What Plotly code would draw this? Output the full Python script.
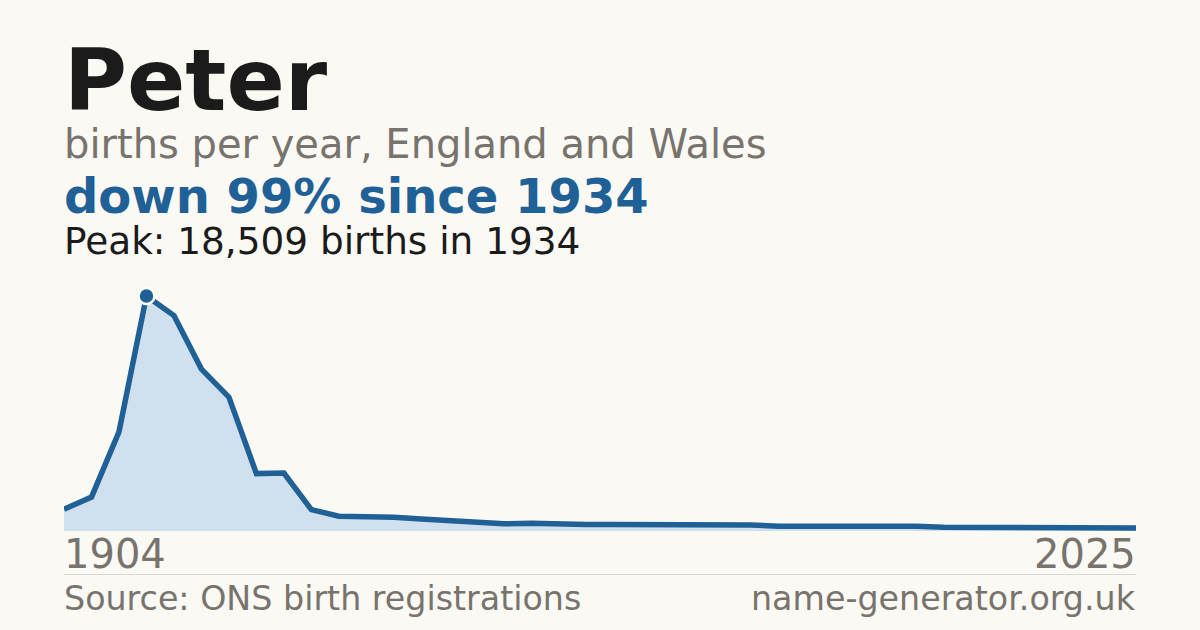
import plotly.graph_objects as go

# births per year for "Peter" (decade points to 1994, then yearly)
years = [1904, 1914, 1924, 1934, 1944, 1954, 1964, 1974, 1984, 1994,
         1996, 1997, 1998, 1999, 2000, 2001, 2002, 2003, 2004, 2005,
         2006, 2007, 2008, 2009, 2010, 2011, 2012, 2013, 2014, 2015,
         2016, 2017, 2018, 2019, 2020, 2021, 2022, 2023, 2024, 2025]
births = [1720, 2670, 7810, 18509, 16970, 12750, 10540, 4520, 4570, 1680,
          1170, 1150, 1090, 950, 830, 750, 570, 610, 520, 510,
          510, 510, 440, 510, 460, 470, 380, 390, 440, 370,
          370, 370, 290, 290, 290, 290, 250, 240, 240, 240]

name = "Peter"
subtitle = "births per year, England and Wales"
source = "Source: ONS birth registrations"
site = "name-generator.org.uk"

W, H = 1200, 630
BG = "#faf9f4"
BLUE = "#1f6096"
GREY = "#78736c"
FONT = "DejaVu Sans"

peak = max(births)
peak_i = births.index(peak)
peak_year = years[peak_i]
drop = round(100 * (1 - births[-1] / peak))
xcats = [str(y) for y in years]


def py(px):
    return 1 - px / H


def px_x(px):
    return px / W


fig = go.Figure()

fig.add_trace(go.Scatter(
    x=xcats, y=births,
    mode="lines",
    line=dict(color=BLUE, width=5.5),
    fill="tozeroy",
    fillcolor="#d0e0ef",
    hoverinfo="skip",
    showlegend=False,
))

# peak dot
fig.add_trace(go.Scatter(
    x=[xcats[peak_i]], y=[peak],
    mode="markers",
    marker=dict(color=BLUE, size=16, line=dict(color="white", width=2.5)),
    cliponaxis=False,
    showlegend=False,
))

annots = [
    dict(text="<b>%s</b>" % name, x=px_x(62), y=py(28), size=86, color="#1b1b1b", xa="left"),
    dict(text=subtitle, x=px_x(62), y=py(119), size=40, color=GREY, xa="left"),
    dict(text="<b>down %d%% since %d</b>" % (drop, peak_year), x=px_x(62), y=py(165.5),
         size=48, color=BLUE, xa="left"),
    dict(text="Peak: {:,} births in {}".format(peak, peak_year), x=px_x(62), y=py(217),
         size=37.4, color="#1b1b1b", xa="left"),
    dict(text=xcats[0], x=px_x(62), y=py(529), size=40, color=GREY, xa="left"),
    dict(text=xcats[-1], x=px_x(1138), y=py(529), size=40, color=GREY, xa="right"),
    dict(text=source, x=px_x(62), y=py(577), size=33.3, color=GREY, xa="left"),
    dict(text=site, x=px_x(1138), y=py(577), size=33.3, color=GREY, xa="right"),
]

for a in annots:
    fig.add_annotation(
        text=a["text"], x=a["x"], y=a["y"], xref="paper", yref="paper",
        xanchor=a["xa"], yanchor="top", showarrow=False,
        font=dict(family=FONT, size=a["size"], color=a["color"]),
    )

fig.add_shape(type="line", xref="paper", yref="paper",
              x0=px_x(64), x1=px_x(1136), y0=py(574.5), y1=py(574.5),
              line=dict(color="#dcd9d2", width=1))

fig.update_layout(
    width=W, height=H,
    margin=dict(l=0, r=0, t=0, b=0),
    paper_bgcolor=BG,
    plot_bgcolor=BG,
    xaxis=dict(type="category", domain=[px_x(64), px_x(1136)],
               range=[0, len(years) - 1], visible=False),
    yaxis=dict(domain=[py(531), py(296)], range=[0, peak], visible=False),
    showlegend=False,
)

fig.write_html("out.html", config={"displayModeBar": False},
               post_script="document.body.style.margin='0';")
